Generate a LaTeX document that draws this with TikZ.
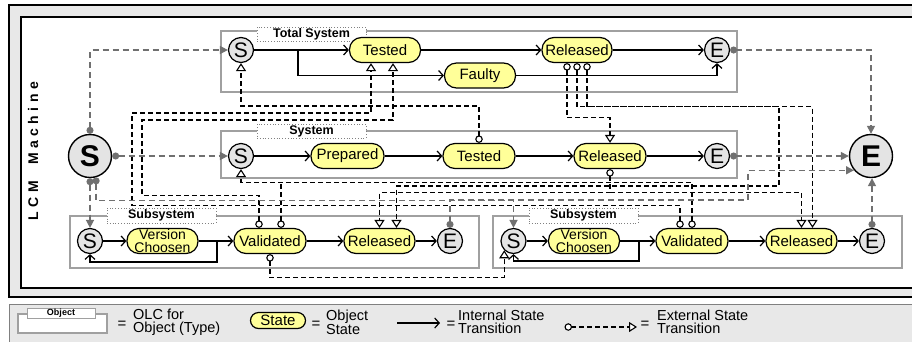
\documentclass[tikz,border=0pt]{standalone}
\usepackage{fontspec}
\setmainfont{Liberation Sans}
\usetikzlibrary{arrows.meta,calc}
\definecolor{stateyellow}{HTML}{FFFF99}
\definecolor{pseudogray}{HTML}{E4E4E4}
\definecolor{framegray}{HTML}{E8E8E8}
\definecolor{boxgray}{HTML}{A0A0A0}
\definecolor{lcmgray}{HTML}{707070}
\begin{document}
\begin{tikzpicture}[x=1pt,y=-1pt,
  state/.style={draw, line width=1.2pt, fill=stateyellow, rounded corners=12pt, minimum width=72pt, minimum height=25pt, inner sep=0pt, font=\fontsize{15}{15}\selectfont},
  pseudo/.style={circle, draw, line width=1.2pt, fill=pseudogray, minimum size=25pt, inner sep=0pt, font=\fontsize{21}{21}\selectfont},
  bigpseudo/.style={circle, draw, line width=1.4pt, fill=pseudogray, minimum size=43pt, inner sep=0pt, font=\bfseries\fontsize{30}{30}\selectfont},
  olc/.style={draw=boxgray, line width=1.6pt},
  olclabel/.style={draw=gray, dotted, line width=0.8pt, fill=white, minimum width=109pt, minimum height=14pt, inner sep=0pt, font=\bfseries\fontsize{12.5}{12.5}\selectfont},
  itr/.style={line width=1.2pt, -{Straight Barb[length=4.5pt,width=10pt,line width=1.2pt]}},
  ext/.style={line width=1.3pt, dash pattern=on 5pt off 3pt, {Circle[fill=white,length=7.5pt,line width=1.1pt]}-{Triangle[fill=white,width=10pt,length=8pt,line width=1.1pt]}},
  extstart/.style={line width=1.3pt, dash pattern=on 5pt off 3pt, {Circle[fill=white,length=7.5pt,line width=1.1pt]}-},
  extend/.style={line width=1.3pt, dash pattern=on 5pt off 3pt, -{Triangle[fill=white,width=10pt,length=8pt,line width=1.1pt]}},
  lcm/.style={draw=lcmgray, line width=1.4pt, dash pattern=on 6pt off 4pt, {Circle[length=7pt,fill=lcmgray]}-{Triangle[length=8pt,width=8pt,fill=lcmgray]}},
  twoline/.style={align=center, font=\fontsize{14}{12.5}\selectfont},
  eqsign/.style={inner sep=0pt, font=\fontsize{15}{15}\selectfont},
  legtext/.style={anchor=west, align=left, inner sep=0pt, font=\fontsize{14.5}{13}\selectfont}
]
\useasboundingbox (0,0) rectangle (912,341);
% frame
\draw[fill=framegray, line width=1.5pt] (9,5) rectangle (920,297);
\draw[fill=white, line width=1.5pt] (21,17) rectangle (920,288);
\node[rotate=90, inner sep=0pt, font=\bfseries\fontsize{14}{14}\selectfont] (lcmtitle) at (33,151)
  {L\hspace{4.5pt}C\hspace{4.5pt}M\hspace{16pt}M\hspace{4.5pt}a\hspace{4.5pt}c\hspace{4.5pt}h\hspace{4.5pt}i\hspace{4.5pt}n\hspace{4.5pt}e};
% OLC boxes
\draw[olc] (221,31) rectangle (737,92);
\draw[olc] (221,131) rectangle (737,178);
\draw[olc] (70,216) rectangle (479,268);
\draw[olc] (493,216) rectangle (902,268);
\node[olclabel] (lblT) at (311.5,34) {Total System};
\node[olclabel] (lblS) at (311.5,131) {System};
\node[olclabel, minimum height=15pt] (lblA) at (161.5,215.5) {Subsystem};
\node[olclabel, minimum height=15pt] (lblB) at (583.5,215.5) {Subsystem};
% big pseudo states
\node[bigpseudo] (bigS) at (90,156) {S};
\node[bigpseudo] (bigE) at (871,156) {E};
% Total System
\node[pseudo] (tS) at (241,50) {S};
\node[state, minimum width=71pt] (tT) at (385,50) {Tested};
\node[state, minimum width=70pt] (tR) at (577,50) {Released};
\node[state, minimum width=71pt] (tF) at (480,75.5) {Faulty};
\node[pseudo] (tE) at (717,50) {E};
% System
\node[pseudo] (sS) at (241,156) {S};
\node[state, minimum width=73pt] (sP) at (347.5,156) {Prepared};
\node[state] (sT) at (479,156) {Tested};
\node[state] (sR) at (610,156) {Released};
\node[pseudo] (sE) at (717,156) {E};
% Subsystem 1
\node[pseudo] (aS) at (90,241) {S};
\node[state, minimum width=71pt, twoline] (aV) at (162.5,241) {Version\\Choosen};
\node[state] (aVa) at (270,241) {Validated};
\node[state, minimum width=71pt] (aR) at (379.5,241) {Released};
\node[pseudo] (aE) at (450,241) {E};
% Subsystem 2
\node[pseudo] (bS) at (513.5,241) {S};
\node[state, minimum width=71pt, twoline] (bV) at (584,241) {Version\\Choosen};
\node[state] (bVa) at (692,241) {Validated};
\node[state, minimum width=71pt] (bR) at (801.5,241) {Released};
\node[pseudo] (bE) at (872,241) {E};
% internal transitions
\coordinate (tb) at (298,50);
\draw[itr] (tS) -- (tT);
\draw[itr] (tb) |- (tF);
\draw[itr] (tT) -- (tR);
\draw[itr] (tR) -- (tE);
\draw[itr] (tF) -| (tE);
\draw[itr] (sS) -- (sP);
\draw[itr] (sP) -- (sT);
\draw[itr] (sT) -- (sR);
\draw[itr] (sR) -- (sE);
\draw[itr] (aS) -- (aV);
\draw[itr] (aV) -- (aVa);
\draw[itr] (aVa) -- (aR);
\draw[itr] (aR) -- (aE);
\coordinate (ab) at (217,241);
\draw[itr] (ab) -- (217,262) -| (aS);
\draw[itr] (bS) -- (bV);
\draw[itr] (bV) -- (bVa);
\draw[itr] (bVa) -- (bR);
\draw[itr] (bR) -- (bE);
\coordinate (bb) at (639,241);
\draw[itr] (bb) -- (639,261) -| (bS);
% external state transitions
\draw[ext] (sT.north) -- (sT.north |- 0,106) -| (tS.south);
\draw[ext] ([xshift=-12pt]bVa.north) -- ++(0,-22.5) -| (132,113) -| ([xshift=-14pt]tT.south);
\draw[ext] ([xshift=-11pt]aVa.north) -- ++(0,-32.5) -| (142,120) -| ([xshift=8pt]tT.south);
\draw[ext] (bVa.north) -- ++(0,-45.5) -| (sS.south);
\draw[extstart] ([xshift=11pt]aVa.north) -- ++(0,-45.5);
\draw[ext] ([xshift=-10pt]tR.south) -- ++(0,54.5) -| (sR.north);
\draw[ext] (tR.south) -- ++(0,43.5) -| (779,186) -| ([xshift=17pt]aR.north);
\draw[ext] ([xshift=10pt]tR.south) -- ++(0,43.5) -| ([xshift=11pt]bR.north);
\coordinate (sRj) at ($(sR.south)+(0,23.5)$);
\draw[ext] (sR.south) -- (sRj) -| (aR.north);
\draw[extend] (sRj) -| (bR.north);
\draw[ext] (aVa.south) -- ++(0,23.5) -| (bS.-135);
% LCM machine transitions
\draw[lcm] (bigS.north) |- (tS.west);
\draw[lcm] (bigS.east) -- (sS.west);
\draw[lcm] (bigS.south) -- (aS.north);
\draw[lcm] (bigS.-74) -- ++(0,23.3) -| (bS.north);
\draw[lcm] (sE.east) -- (bigE.west);
\draw[lcm] (tE.east) -| (bigE.north);
\draw[lcm] (aE.north) |- (748,200) |- (bigE.-140);
\draw[lcm] (bE.north) -- (bE.north |- bigE.south);
% legend
\draw[draw=gray, fill=framegray, line width=0.8pt] (9,304) rectangle (920,345);
\node[draw=boxgray, line width=1.2pt, fill=white, minimum width=89pt, minimum height=19pt, inner sep=0pt] (lgO) at (62.5,323.5) {};
\node[draw=boxgray, line width=0.8pt, fill=white, minimum width=68pt, minimum height=10pt, inner sep=0pt, font=\bfseries\fontsize{9}{9}\selectfont] (lgOl) at (61,313) {Object};
\node[eqsign] (eq1) at (122,325) {=};
\node[legtext] (lt1) at (133,322) {OLC for\\Object (Type)};
\node[state, minimum width=55pt, minimum height=16pt, rounded corners=8pt] (lgS) at (278,320.5) {State};
\node[eqsign] (eq2) at (316,325) {=};
\node[legtext] (lt2) at (326,322) {Object\\State};
\coordinate (la1) at (397,323);
\coordinate (la2) at (440,323);
\draw[itr] (la1) -- (la2);
\node[eqsign] (eq3) at (451,325) {=};
\node[legtext] (lt3) at (458,322) {Internal State\\Transition};
\coordinate (le1) at (564.5,327);
\coordinate (le2) at (637,327);
\draw[ext] (le1) -- (le2);
\node[eqsign] (eq4) at (645,325) {=};
\node[legtext] (lt4) at (657,322) {External State\\Transition};
\end{tikzpicture}
\end{document}
